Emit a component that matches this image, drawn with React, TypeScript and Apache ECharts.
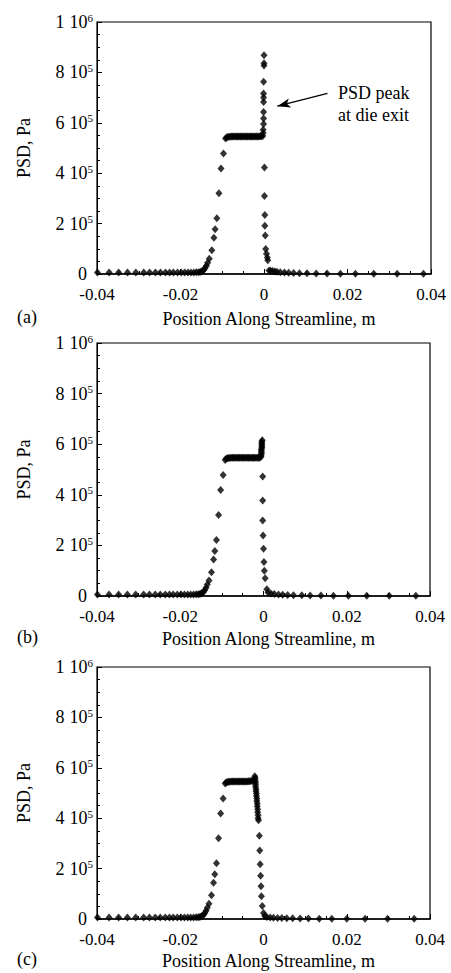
import React, { useEffect, useRef } from "react";
import * as echarts from "echarts";

const FONT = '"Liberation Serif", "Times New Roman", serif';

// Axis ticks
const xTickValues = [-0.04, -0.02, 0, 0.02, 0.04];
const xTickLabels = ["-0.04", "-0.02", "0", "0.02", "0.04"];
const yTickValues = [0, 200000, 400000, 600000, 800000, 1000000];
const yTickMantissa = ["0", "2", "4", "6", "8", "1"];
const yTickExp = ["", "5", "5", "5", "5", "6"];

const panelLetters = ["(a)", "(b)", "(c)"];
const xTitle = "Position Along Streamline, m";
const yTitle = "PSD, Pa";
const noteText = "PSD peak\nat die exit";
// arrow tail and head, in data units of panel (a)
const arrowFrom = [0.0152, 717000];
const arrowTo = [0.0032, 666000];

// Upstream part (same in all three panels): [position m, PSD Pa]
const upstream = [
  [-0.0399, 5500], [-0.0371, 5500], [-0.0348, 5500], [-0.0327, 5500], [-0.0307, 5500],
  [-0.0288, 5500], [-0.0274, 5500], [-0.026, 5500], [-0.0248, 5500], [-0.0236, 5500],
  [-0.0226, 5500], [-0.0217, 5500], [-0.0207, 5500], [-0.0198, 5500], [-0.019, 5500],
  [-0.0182, 5500], [-0.0175, 5500], [-0.0168, 6000], [-0.0162, 6500], [-0.0157, 7000],
  [-0.0153, 8000], [-0.015, 9500], [-0.0147, 12000], [-0.0144, 17000], [-0.0141, 24000],
  [-0.0138, 33000], [-0.0135, 45000], [-0.0131, 61000], [-0.0125, 94000], [-0.012, 144000],
  [-0.0117, 178000], [-0.0113, 221000], [-0.0108, 320000], [-0.0103, 419000],
  [-0.0097, 478000], [-0.0092, 538000],
];

// Panel (a)
const plateauA = [
  [-0.009, 542000], [-0.0087, 544000], [-0.0084, 545000], [-0.0081, 545000], [-0.0078, 546000],
  [-0.0075, 546000], [-0.0072, 546000], [-0.0069, 546000], [-0.0066, 546000], [-0.0063, 546000],
  [-0.006, 546000], [-0.0057, 546000], [-0.0054, 546000], [-0.0051, 546000], [-0.0048, 546000],
  [-0.0045, 546000], [-0.0042, 546000], [-0.0039, 546000], [-0.0036, 546000], [-0.0033, 546000],
  [-0.003, 546000], [-0.0027, 546000], [-0.0024, 546000], [-0.0021, 546000], [-0.0018, 546000],
  [-0.0015, 546000], [-0.0012, 546000], [-0.0009, 547000], [-0.0006, 547000], [-0.0003, 548000],
];
const exitA = [
  [-0.0002, 560000], [-0.0002, 572000], [-0.0001, 595000], [-0.0001, 617000], [-0.0001, 643000],
  [-0.0001, 683000], [-0.0001, 700000], [-0.0001, 716000], [-0.0001, 763000], [0.0, 827000],
  [0.0, 836000], [0.0, 868000],
  [0.0001, 423000], [0.0001, 310000], [0.0002, 234000], [0.0002, 191000], [0.0003, 153000],
  [0.0004, 99000], [0.0006, 80000], [0.0008, 65000], [0.0009, 55000],
];
const downstreamA = [
  [0.0012, 14000], [0.0016, 13000], [0.0021, 12000], [0.0026, 10000], [0.0031, 9000],
  [0.0039, 7000], [0.0049, 5500], [0.0059, 4500], [0.0071, 3500], [0.0085, 3000],
  [0.0103, 2500], [0.0125, 2000], [0.0151, 1500], [0.0183, 1200], [0.0219, 1000],
  [0.0263, 800], [0.0319, 600], [0.0382, 500],
];

// Panel (b)
const plateauB = [
  [-0.009, 542000], [-0.0087, 544000], [-0.0084, 545000], [-0.0081, 545000], [-0.0078, 546000],
  [-0.0075, 546000], [-0.0072, 546000], [-0.0069, 546000], [-0.0066, 546000], [-0.0063, 546000],
  [-0.006, 546000], [-0.0057, 546000], [-0.0054, 546000], [-0.0051, 546000], [-0.0048, 546000],
  [-0.0045, 546000], [-0.0042, 546000], [-0.0039, 546000], [-0.0036, 546000], [-0.0033, 546000],
  [-0.003, 546000], [-0.0027, 546000], [-0.0024, 546000], [-0.0021, 546000], [-0.0018, 546000],
  [-0.0015, 546000], [-0.0012, 546000], [-0.0009, 546000],
];
const exitB = [
  [-0.0006, 550000], [-0.0006, 556000], [-0.0005, 562000], [-0.0005, 568000], [-0.0005, 574000],
  [-0.0005, 580000], [-0.0004, 586000], [-0.0004, 592000], [-0.0004, 598000], [-0.0004, 604000],
  [-0.0004, 610000], [-0.0003, 616000],
  [-0.0002, 472000], [-0.0002, 377000], [-0.0002, 298000], [-0.0001, 239000], [0.0, 187000],
  [0.0001, 134000], [0.0002, 100000], [0.0004, 70000], [0.0008, 27000],
];
const downstreamB = [
  [0.0011, 14000], [0.0018, 10000], [0.0026, 8000], [0.0036, 6000], [0.0046, 5000],
  [0.0058, 4000], [0.0072, 3000], [0.0092, 2500], [0.0112, 2000], [0.0138, 1500],
  [0.0168, 1200], [0.0204, 1000], [0.0248, 800], [0.0302, 600], [0.0366, 500],
];

// Panel (c)
const plateauC = [
  [-0.009, 542000], [-0.0087, 544000], [-0.0084, 545000], [-0.0081, 545000], [-0.0078, 546000],
  [-0.0075, 546000], [-0.0072, 546000], [-0.0069, 546000], [-0.0066, 546000], [-0.0063, 546000],
  [-0.006, 546000], [-0.0057, 546000], [-0.0054, 546000], [-0.0051, 546000], [-0.0048, 546000],
  [-0.0045, 546000], [-0.0042, 546000], [-0.0039, 546000], [-0.0036, 547000], [-0.0033, 547000],
  [-0.003, 548000], [-0.0027, 549000], [-0.0024, 552000],
];
const exitC = [
  [-0.0021, 566000], [-0.002, 560000], [-0.002, 552000], [-0.0019, 543000], [-0.0019, 534000],
  [-0.0019, 525000], [-0.0018, 516000], [-0.0018, 507000], [-0.0017, 498000], [-0.0017, 488000],
  [-0.0016, 478000], [-0.0016, 468000], [-0.0015, 458000], [-0.0015, 447000], [-0.0014, 436000],
  [-0.0014, 424000], [-0.0013, 412000], [-0.0013, 400000], [-0.0012, 392000],
  [-0.001, 330000], [-0.0009, 272000], [-0.0008, 217000], [-0.0007, 172000], [-0.0006, 130000],
  [-0.0005, 90000], [-0.0003, 52000], [0.0, 24000], [0.0003, 12000],
];
const downstreamC = [
  [0.0008, 8000], [0.0016, 6000], [0.0024, 5000], [0.0034, 4000], [0.0044, 3500],
  [0.0056, 3000], [0.007, 2500], [0.0088, 2000], [0.0108, 1500], [0.0134, 1200],
  [0.0164, 1000], [0.02, 800], [0.0244, 600], [0.0298, 500], [0.0362, 500],
];

const panels = [
  [...upstream, ...plateauA, ...exitA, ...downstreamA],
  [...upstream, ...plateauB, ...exitB, ...downstreamB],
  [...upstream, ...plateauC, ...exitC, ...downstreamC],
];

// layout
const grids = [
  { left: 97, top: 22, width: 334, height: 252 },
  { left: 97, top: 343, width: 333, height: 253 },
  { left: 97, top: 667, width: 333, height: 252 },
];
const xNameGaps = [36, 34, 33];
const letterY = [318, 638, 960];

function xFmt(v: number) {
  const i = xTickValues.findIndex((t) => Math.abs(t - v) < 1e-9);
  return i >= 0 ? xTickLabels[i] : "";
}
function yFmt(v: number) {
  const i = yTickValues.findIndex((t) => Math.abs(t - v) < 1);
  if (i < 0) return "";
  if (!yTickExp[i]) return `{m|${yTickMantissa[i]}}{p|}`;
  return `{d|${yTickMantissa[i]}}{m|10}{e|${yTickExp[i]}}`;
}

export default function App() {
  const ref = useRef<HTMLDivElement>(null);
  useEffect(() => {
    if (!ref.current) return;
    const chart = echarts.init(ref.current, undefined, { renderer: "svg" });
    const xAxis = grids.map((_, i) => ({
      type: "value",
      gridIndex: i,
      min: -0.04,
      max: 0.04,
      interval: 0.02,
      name: xTitle,
      nameLocation: "middle",
      nameGap: xNameGaps[i],
      nameTextStyle: { fontFamily: FONT, fontSize: 18, color: "#000", padding: [0, 0, 0, 10] },
      axisLine: { show: true, onZero: false, lineStyle: { color: "#000", width: 1.5 } },
      axisTick: { show: true, inside: true, length: 5, lineStyle: { color: "#000", width: 1 } },
      minorTick: { show: true, splitNumber: 4, length: 3, lineStyle: { color: "#000", width: 1 } },
      splitLine: { show: false },
      axisLabel: {
        formatter: xFmt,
        margin: 12,
        fontFamily: FONT,
        fontSize: 17,
        color: "#000",
        showMinLabel: true,
        showMaxLabel: true,
      },
    }));
    const yAxis = grids.map((_, i) => ({
      type: "value",
      gridIndex: i,
      min: 0,
      max: 1000000,
      interval: 200000,
      name: yTitle,
      nameLocation: "middle",
      nameGap: 64,
      nameTextStyle: { fontFamily: FONT, fontSize: 18, color: "#000" },
      axisLine: { show: true, onZero: false, lineStyle: { color: "#000", width: 1 } },
      axisTick: { show: true, inside: true, length: 5, lineStyle: { color: "#000", width: 1 } },
      minorTick: { show: true, splitNumber: 4, length: 3, lineStyle: { color: "#000", width: 1 } },
      splitLine: { show: false },
      axisLabel: {
        formatter: yFmt,
        margin: 4,
        color: "#000",
        rich: {
          d: { fontFamily: FONT, fontSize: 18, color: "#000", lineHeight: 20, width: 14, align: "left" },
          m: { fontFamily: FONT, fontSize: 18, color: "#000", lineHeight: 20 },
          e: { fontFamily: FONT, fontSize: 11, color: "#000", lineHeight: 12, verticalAlign: "top" },
          p: { width: 6 },
        },
      },
    }));
    const series = panels.map((data, i) => ({
      type: "scatter",
      xAxisIndex: i,
      yAxisIndex: i,
      data,
      symbol: "diamond",
      symbolSize: [7, 8],
      itemStyle: { color: "#000" },
      silent: true,
      ...(i === 0
        ? {
            markLine: {
              silent: true,
              symbolSize: [7, 13],
              label: { show: false },
              lineStyle: { color: "#000", width: 1.2, type: "solid" },
              data: [
                [
                  { coord: arrowFrom, symbol: "none" },
                  { coord: arrowTo, symbol: "arrow" },
                ],
              ],
            },
          }
        : {}),
    }));
    const graphic: any[] = panelLetters.map((t, i) => ({
      type: "text",
      left: 17,
      top: letterY[i] - 10,
      style: { text: t, font: `18px ${FONT}`, fill: "#000" },
    }));
    graphic.push({
      type: "text",
      left: 338,
      top: 82,
      style: { text: noteText, font: `18px ${FONT}`, fill: "#000", lineHeight: 22 },
    });
    chart.setOption({
      animation: false,
      backgroundColor: "#fff",
      grid: grids.map((g) => ({ ...g, show: true, borderColor: "#000", borderWidth: 1.2, containLabel: false })),
      xAxis,
      yAxis,
      series,
      graphic,
    });
    return () => chart.dispose();
  }, []);
  return (
    <div
      ref={ref}
      style={{ position: "absolute", left: 0, top: 0, width: 451, height: 973, background: "#fff" }}
    />
  );
}
